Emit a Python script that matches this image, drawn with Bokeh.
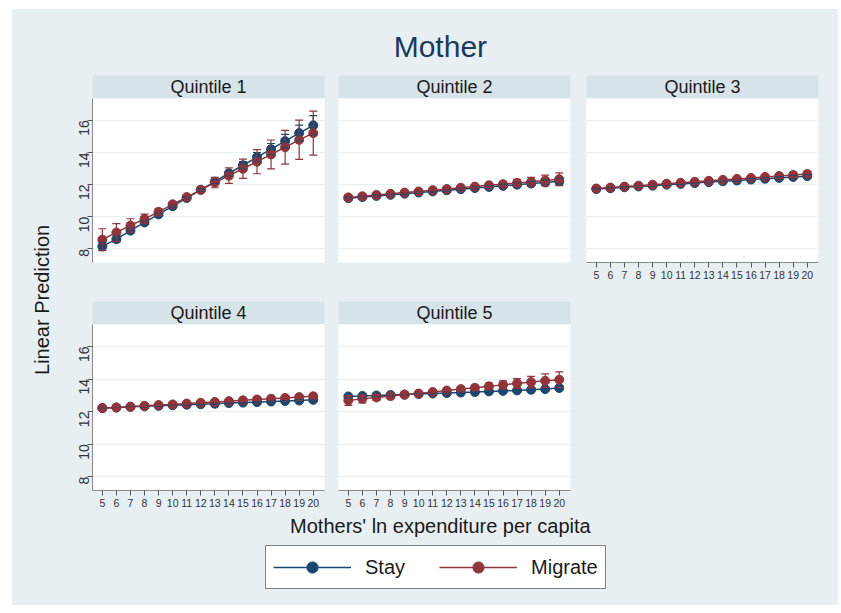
import math
from bokeh.plotting import figure
from bokeh.models import (Range1d, Label, Whisker, TeeHead, ColumnDataSource, FixedTicker,
                          Grid, Legend, LegendItem)
from bokeh.layouts import column, row
from bokeh.embed import file_html
from bokeh.resources import INLINE

# ---------------- data ----------------
x_vals = [5, 6, 7, 8, 9, 10, 11, 12, 13, 14, 15, 16, 17, 18, 19, 20]
y_ticks = [8, 10, 12, 14, 16]
series_labels = ["Stay", "Migrate"]
panel_titles = ["Quintile 1", "Quintile 2", "Quintile 3", "Quintile 4", "Quintile 5"]

q1_stay = [8.15, 8.6, 9.13, 9.64, 10.14, 10.65, 11.16, 11.67, 12.18, 12.7, 13.2, 13.7, 14.2, 14.7, 15.2, 15.68]
q1_stay_ci = [0.25, 0.2, 0.15, 0.1, 0.07, 0.05, 0.05, 0.08, 0.12, 0.17, 0.22, 0.28, 0.35, 0.42, 0.5, 0.6]
q1_mig = [8.57, 9.02, 9.45, 9.86, 10.3, 10.77, 11.22, 11.67, 12.12, 12.55, 12.98, 13.42, 13.87, 14.32, 14.78, 15.2]
q1_mig_ci = [0.68, 0.55, 0.42, 0.3, 0.2, 0.12, 0.1, 0.18, 0.32, 0.48, 0.6, 0.75, 0.9, 1.05, 1.22, 1.37]

q2_stay = [11.15, 11.22, 11.29, 11.36, 11.43, 11.5, 11.57, 11.64, 11.71, 11.78, 11.85, 11.92, 11.99, 12.06, 12.13, 12.2]
q2_stay_ci = [0.08, 0.07, 0.06, 0.05, 0.04, 0.04, 0.04, 0.05, 0.06, 0.07, 0.08, 0.1, 0.12, 0.14, 0.16, 0.18]
q2_mig = [11.2, 11.27, 11.35, 11.42, 11.5, 11.57, 11.65, 11.72, 11.8, 11.87, 11.95, 12.02, 12.1, 12.17, 12.25, 12.33]
q2_mig_ci = [0.15, 0.12, 0.1, 0.08, 0.06, 0.05, 0.05, 0.06, 0.08, 0.1, 0.13, 0.17, 0.22, 0.27, 0.33, 0.4]

q3_stay = [11.72, 11.77, 11.83, 11.88, 11.93, 11.99, 12.04, 12.09, 12.15, 12.2, 12.25, 12.31, 12.36, 12.41, 12.47, 12.52]
q3_stay_ci = [0.06, 0.05, 0.04, 0.04, 0.03, 0.03, 0.03, 0.03, 0.04, 0.04, 0.05, 0.06, 0.07, 0.08, 0.09, 0.1]
q3_mig = [11.75, 11.81, 11.87, 11.93, 11.99, 12.05, 12.11, 12.17, 12.23, 12.29, 12.35, 12.41, 12.47, 12.53, 12.59, 12.65]
q3_mig_ci = [0.1, 0.08, 0.07, 0.06, 0.05, 0.04, 0.04, 0.05, 0.06, 0.07, 0.08, 0.1, 0.12, 0.14, 0.16, 0.18]

q4_stay = [12.22, 12.25, 12.29, 12.32, 12.35, 12.39, 12.42, 12.45, 12.48, 12.52, 12.55, 12.58, 12.62, 12.65, 12.68, 12.72]
q4_stay_ci = [0.05, 0.04, 0.04, 0.03, 0.03, 0.03, 0.03, 0.03, 0.03, 0.04, 0.04, 0.05, 0.05, 0.06, 0.07, 0.08]
q4_mig = [12.21, 12.25, 12.3, 12.35, 12.4, 12.44, 12.49, 12.54, 12.59, 12.64, 12.69, 12.74, 12.79, 12.84, 12.89, 12.94]
q4_mig_ci = [0.06, 0.05, 0.05, 0.04, 0.04, 0.04, 0.04, 0.04, 0.05, 0.05, 0.06, 0.07, 0.08, 0.09, 0.1, 0.11]

q5_stay = [12.93, 12.96, 12.99, 13.02, 13.05, 13.08, 13.11, 13.14, 13.17, 13.2, 13.24, 13.27, 13.3, 13.34, 13.38, 13.45]
q5_stay_ci = [0.12, 0.1, 0.08, 0.06, 0.05, 0.04, 0.04, 0.05, 0.06, 0.07, 0.08, 0.09, 0.1, 0.11, 0.12, 0.13]
q5_mig = [12.68, 12.78, 12.87, 12.95, 13.03, 13.11, 13.2, 13.29, 13.38, 13.46, 13.55, 13.64, 13.73, 13.81, 13.89, 13.96]
q5_mig_ci = [0.3, 0.25, 0.18, 0.12, 0.08, 0.06, 0.07, 0.1, 0.13, 0.17, 0.2, 0.25, 0.3, 0.35, 0.42, 0.48]

# ---------------- style ----------------
BG = "#e8eff2"
STRIP = "#d6e3e9"
GRIDC = "#e8eff2"
STAY_C = "#1a476f"
MIG_C = "#90353b"
FONT = "Liberation Sans"
TXT = "#1a1a1a"


def blank(w, h, bl=0, br=0, fill=BG):
    f = figure(width=w, height=h, x_range=Range1d(0, 1), y_range=Range1d(0, 1),
               x_axis_location=None, y_axis_location=None, toolbar_location=None,
               output_backend="svg", min_border_left=bl, min_border_right=br,
               min_border_top=0, min_border_bottom=0, background_fill_color=fill,
               border_fill_color=BG, outline_line_color=None)
    f.grid.visible = False
    return f


def add_series(p, ys, ci, color):
    src = ColumnDataSource(dict(x=x_vals, y=ys,
                                lo=[a - b for a, b in zip(ys, ci)],
                                hi=[a + b for a, b in zip(ys, ci)]))
    p.line("x", "y", source=src, line_color=color, line_width=1.5)
    w = Whisker(base="x", lower="lo", upper="hi", source=src, line_color=color, line_width=1.2,
                upper_head=TeeHead(size=8, line_color=color, line_width=1.2),
                lower_head=TeeHead(size=8, line_color=color, line_width=1.2), level="glyph")
    p.add_layout(w)
    p.scatter("x", "y", source=src, size=9, fill_color=color, line_color=color, marker="circle")


def style_axis(ax, size):
    ax.major_label_text_font = FONT
    ax.major_label_text_font_size = size
    ax.major_label_text_color = "#333333"
    ax.major_tick_out = 5
    ax.major_tick_in = 0
    ax.minor_tick_out = 0
    ax.minor_tick_in = 0
    ax.axis_line_color = "#8a8a8a"
    ax.major_tick_line_color = "#555555"
    ax.major_label_standoff = 3


def panel(name, stay, stay_ci, mig, mig_ci, show_x, show_y, bl, br, bb, w, h):
    strip = blank(w, 23, bl=bl, br=br, fill=STRIP)
    strip.add_layout(Label(x=0.5, y=0.5, text=name, text_align="center", text_baseline="middle",
                           text_font=FONT, text_font_size="18px", text_color=TXT))
    p = figure(width=w, height=h, x_range=Range1d(4.3, 20.8), y_range=Range1d(7.15, 17.35),
               x_axis_location="below" if show_x else None,
               y_axis_location="left" if show_y else None,
               toolbar_location=None, output_backend="svg",
               min_border_left=bl, min_border_right=br, min_border_top=0, min_border_bottom=bb,
               background_fill_color="white", border_fill_color=BG, outline_line_color=None)
    p.grid.visible = False
    p.add_layout(Grid(dimension=1, ticker=FixedTicker(ticks=y_ticks), grid_line_color=GRIDC,
                      grid_line_width=1.2))
    if show_y:
        ax = p.yaxis[0]
        ax.ticker = FixedTicker(ticks=y_ticks)
        ax.major_label_orientation = math.pi / 2
        style_axis(ax, "14px")
    if show_x:
        ax = p.xaxis[0]
        ax.ticker = FixedTicker(ticks=x_vals)
        style_axis(ax, "10.5px")
    add_series(p, stay, stay_ci, STAY_C)
    add_series(p, mig, mig_ci, MIG_C)
    return column(strip, p, spacing=0)


# panel columns (frames at page x: 92-324, 338-570, 586-818)
c1 = panel(panel_titles[0], q1_stay, q1_stay_ci, q1_mig, q1_mig_ci, False, True, 32, 7, 39, 271, 203)
c2 = panel(panel_titles[1], q2_stay, q2_stay_ci, q2_mig, q2_mig_ci, False, False, 7, 8, 39, 247, 203)
c3 = panel(panel_titles[2], q3_stay, q3_stay_ci, q3_mig, q3_mig_ci, True, False, 8, 20, 39, 260, 203)
c4 = panel(panel_titles[3], q4_stay, q4_stay_ci, q4_mig, q4_mig_ci, True, True, 32, 7, 25, 271, 191)
c5 = panel(panel_titles[4], q5_stay, q5_stay_ci, q5_mig, q5_mig_ci, True, False, 7, 8, 25, 247, 191)
empty = blank(260, 214)

grid = column(row(c1, c2, c3, spacing=0), row(c4, c5, empty, spacing=0), spacing=0)

# y label
ylab = blank(48, 440)
ylab.add_layout(Label(x=0.62, y=0.49, text="Linear Prediction", angle=math.pi / 2,
                      text_align="center", text_baseline="middle", text_font=FONT,
                      text_font_size="20px", text_color=TXT))
mid = row(ylab, grid, spacing=0)

# top title
top = blank(826, 66)
top.add_layout(Label(x=0.518, y=0.44, text="Mother", text_align="center", text_baseline="middle",
                     text_font=FONT, text_font_size="30px", text_color="#1a3a5c"))

# bottom: x title + legend
bot = blank(826, 90)
bot.add_layout(Label(x=0.518, y=0.885, text="Mothers' ln expenditure per capita", text_align="center",
                     text_baseline="middle", text_font=FONT, text_font_size="20px", text_color=TXT))
# legend renderers carry the series but lie outside this strip's visible range
l1 = bot.line(x_vals, q1_stay, line_color=STAY_C, line_width=1.5)
s1 = bot.scatter(x_vals, q1_stay, fill_color=STAY_C, line_color=STAY_C, size=11)
l2 = bot.line(x_vals, q1_mig, line_color=MIG_C, line_width=1.5)
s2 = bot.scatter(x_vals, q1_mig, fill_color=MIG_C, line_color=MIG_C, size=11)
legend = Legend(items=[LegendItem(label=series_labels[0], renderers=[l1, s1]),
                       LegendItem(label=series_labels[1], renderers=[l2, s2])],
                orientation="horizontal", location=(253, 16), margin=0, padding=7,
                glyph_width=78, glyph_height=28, label_standoff=14, spacing=34,
                label_text_font=FONT, label_text_font_size="20px", label_text_color=TXT,
                border_line_color="black", border_line_width=1, background_fill_color="white",
                background_fill_alpha=1.0)
bot.add_layout(legend, "center")

p = column(top, mid, bot, spacing=0, margin=(9, 0, 0, 12), styles={"background-color": BG})

open("out.html", "w").write(file_html(p, INLINE))
